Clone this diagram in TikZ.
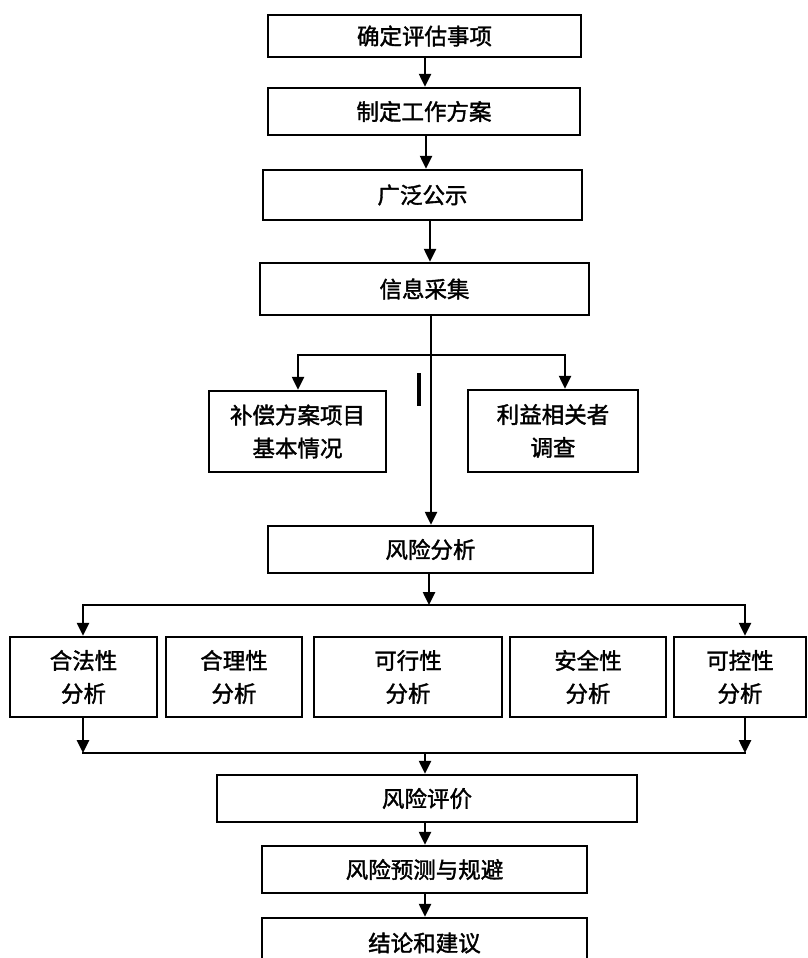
\documentclass[tikz,border=0pt]{standalone}
\usepackage{fontspec}
\newfontfamily\cjk[FakeBold=1.6]{Noto Sans CJK SC}
\usetikzlibrary{arrows.meta}
\begin{document}
\begin{tikzpicture}[x=1pt,y=-1pt,
  box/.style={draw, line width=2.5pt, inner sep=0pt, align=center,
    font=\cjk\fontsize{22.5}{33}\selectfont},
  arr/.style={line width=2.5pt, -{Triangle[width=12pt,length=13pt]}},
  ln/.style={line width=2.5pt, line cap=rect}]
\useasboundingbox (0,0) rectangle (807,958);
\clip (0,0) rectangle (807,958);
\fill[white] (0,0) rectangle (807,958);

% main chain
\node[box, minimum width=313pt, minimum height=42pt] (b1) at (424.5,36) {确定评估事项};
\node[box, minimum width=312pt, minimum height=47pt] (b2) at (424,111.5) {制定工作方案};
\node[box, minimum width=319pt, minimum height=50pt] (b3) at (422.5,195) {广泛公示};
\node[box, minimum width=329pt, minimum height=52pt] (b4) at (424.5,289) {信息采集};
\node[box, minimum width=177pt, minimum height=81pt] (b5) at (297.5,431.5) {补偿方案项目\\基本情况};
\node[box, minimum width=170pt, minimum height=82pt] (b6) at (553,431) {利益相关者\\调查};
\node[box, minimum width=325pt, minimum height=47pt] (b7) at (430.5,549.5) {风险分析};

% analysis row
\node[box, minimum width=147pt, minimum height=80pt] (c1) at (83.5,677) {合法性\\分析};
\node[box, minimum width=136pt, minimum height=80pt] (c2) at (234,677) {合理性\\分析};
\node[box, minimum width=188pt, minimum height=80pt] (c3) at (408,677) {可行性\\分析};
\node[box, minimum width=156pt, minimum height=80pt] (c4) at (588,677) {安全性\\分析};
\node[box, minimum width=132pt, minimum height=80pt] (c5) at (740,677) {可控性\\分析};

\node[box, minimum width=420pt, minimum height=47pt] (b8) at (427,798.5) {风险评价};
\node[box, minimum width=325pt, minimum height=47pt] (b9) at (424.5,869.5) {风险预测与规避};
\node[box, minimum width=325pt, minimum height=50pt] (b10) at (424.5,943) {结论和建议};

% helper coordinates
\coordinate (xa) at (425,0);
\coordinate (xa2) at (426,0);
\coordinate (xb) at (430,0);
\coordinate (xc) at (431,0);
\coordinate (xd) at (429,0);
\coordinate (bl) at (298,355);
\coordinate (br) at (565,355);
\coordinate (rtl) at (83,605);
\coordinate (rtr) at (745,605);
\coordinate (rbl) at (83,753);
\coordinate (rbr) at (745,753);
\coordinate (rbm) at (425,753);

% connectors
\draw[arr] (b1.south -| xa) -- (b2.north -| xa);
\draw[arr] (b2.south -| xa2) -- (b3.north -| xa2);
\draw[arr] (b3.south -| xb) -- (b4.north -| xb);
\draw[arr] (b4.south -| xc) -- (b7.north -| xc);
\draw[ln] (bl) -- (br);
\draw[arr] (bl) -- (b5.north -| bl);
\draw[arr] (br) -- (b6.north -| br);

\draw[arr] (b7.south -| xd) -- (xd |- rtl);
\draw[ln] (rtl) -- (rtr);
\draw[arr] (rtl) -- (c1.north -| rtl);
\draw[arr] (rtr) -- (c5.north -| rtr);

\draw[arr] (c1.south -| rbl) -- (rbl);
\draw[arr] (c5.south -| rbr) -- (rbr);
\draw[ln] (rbl) -- (rbr);
\draw[arr] (rbm) -- (b8.north -| rbm);
\draw[arr] (b8.south -| xa) -- (b9.north -| xa);
\draw[arr] (b9.south -| xa) -- (b10.north -| xa);

% stray mark
\draw[line width=3.5pt] (419,373) -- (419,406);
\end{tikzpicture}
\end{document}
